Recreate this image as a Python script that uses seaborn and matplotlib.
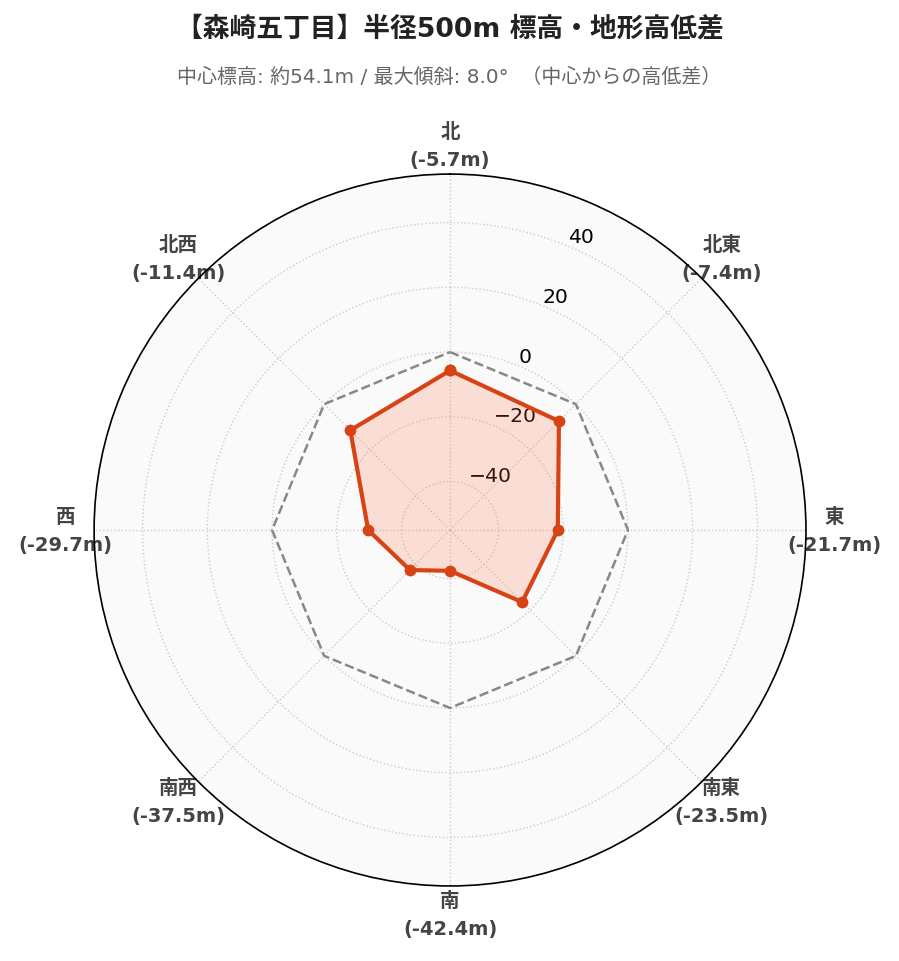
import numpy as np
import pandas as pd
import matplotlib
matplotlib.use('Agg')
import matplotlib.pyplot as plt
import seaborn as sns

# Datos del gráfico
direcciones = ['北', '北東', '東', '南東', '南', '南西', '西', '北西']
diferencias = [-5.7, -7.4, -21.7, -23.5, -42.4, -37.5, -29.7, -11.4]
ticks_radiales = [-40, -20, 0, 20, 40]
titulo = '【森崎五丁目】半径500m 標高・地形高低差'
subtitulo = '中心標高: 約54.1m / 最大傾斜: 8.0°  （中心からの高低差）'

sns.set_style('white')
plt.rcParams['font.family'] = ['DejaVu Sans', 'Noto Sans CJK JP']

color_linea = '#d84315'
color_relleno = '#ff7043'

angulos = np.linspace(0, 2 * np.pi, len(direcciones), endpoint=False)
df = pd.DataFrame({'angulo': np.append(angulos, 2 * np.pi),
                   'diferencia': diferencias + [diferencias[0]],
                   'cero': [0] * (len(direcciones) + 1)})

fig = plt.figure(figsize=(8.99, 9.62), dpi=100)
ax = fig.add_axes([0.1046, 0.078, 0.792, 0.740], projection='polar')
ax.set_facecolor('#fafafa')
ax.set_theta_zero_location('N')
ax.set_theta_direction(-1)

# Línea de referencia en cero
sns.lineplot(data=df, x='angulo', y='cero', ax=ax, color='#888888',
             linestyle='--', linewidth=1.8, sort=False)

# Relleno y línea de diferencias
ax.fill(df['angulo'], df['diferencia'], color=color_relleno, alpha=0.2, zorder=2, linewidth=0)
sns.lineplot(data=df, x='angulo', y='diferencia', ax=ax, color=color_linea,
             linewidth=3, marker='o', markersize=8.5, markeredgewidth=0, sort=False, zorder=3)

ax.set_ylim(-55, 55)
ax.set_yticks(ticks_radiales)
ax.set_yticklabels([str(t).replace('-', '\u2212') for t in ticks_radiales],
                   fontsize=14.7, family='DejaVu Sans', color='black')
ax.set_rlabel_position(22.5)

etiquetas = [f'{d}\n({v}m)' for d, v in zip(direcciones, diferencias)]
ax.set_xticks(angulos)
ax.set_xticklabels(etiquetas, fontsize=14, fontweight='bold', color='#444444',
                   linespacing=1.6)
ax.tick_params(axis='x', pad=10)

ax.grid(True, linestyle=':', color='#cccccc', linewidth=1)
ax.spines['polar'].set_color('black')
ax.spines['polar'].set_linewidth(1.2)
ax.set_xlabel('')
ax.set_ylabel('')

fig.text(0.5, 0.969, titulo, ha='center', va='center', fontsize=19.3, fontweight='bold', color='#222222')
fig.text(0.5, 0.920, subtitulo, ha='center', va='center', fontsize=14.4, color='#666666')

fig.savefig('out.png', dpi=100)
